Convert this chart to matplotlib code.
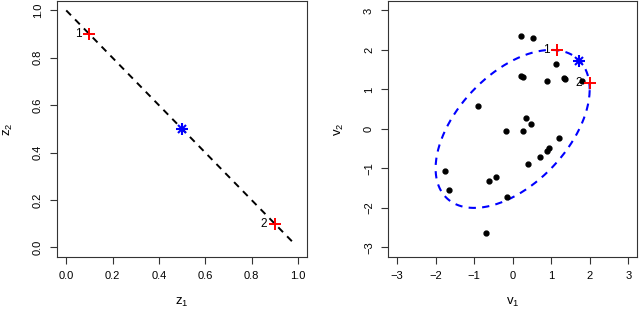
import numpy as np
import matplotlib
matplotlib.use("Agg")
import matplotlib.pyplot as plt

plt.rcParams['font.family'] = ['Liberation Sans', 'DejaVu Sans']
plt.rcParams['mathtext.default'] = 'regular'
plt.rcParams['font.size'] = 8

# left panel: simplex points
z_line_x = [0.0, 0.985]
z_line_y = [1.0, 0.015]
z_cross_x = [0.1, 0.9]
z_cross_y = [0.9, 0.1]
z_cross_lab = ['1', '2']
z_star = (0.5, 0.5)

# right panel: sample points
v1 = [0.21, 0.52, 1.13, 0.21, 0.28, 0.88, 1.33, 1.35, 1.80, -0.91,
      0.35, 0.47, -0.17, 0.28, 1.20, 0.94, 0.88, 0.71, 0.40, -0.42,
      -0.61, -1.76, -1.66, -0.15, -0.69]
v2 = [2.36, 2.30, 1.65, 1.34, 1.31, 1.21, 1.30, 1.26, 1.21, 0.58,
      0.27, 0.13, -0.05, -0.05, -0.24, -0.49, -0.56, -0.70, -0.88, -1.21,
      -1.32, -1.06, -1.54, -1.73, -2.64]
v_cross_x = [1.15, 2.0]
v_cross_y = [2.0, 1.15]
v_cross_lab = ['1', '2']
v_star = (1.73, 1.73)
rho = 0.5
radius = 2.0

fig = plt.figure(figsize=(6.4, 3.11), dpi=100)
ax1 = fig.add_axes([0.089, 0.174, 0.391, 0.823])
ax2 = fig.add_axes([0.606, 0.174, 0.390, 0.823])

def r_style(ax, ticks, lim):
    ax.set_xlim(lim)
    ax.set_ylim(lim)
    ax.set_xticks(ticks)
    ax.set_yticks(ticks)
    ax.tick_params(direction='out', length=5, width=0.8, pad=5, color='#333333')
    for s in ax.spines.values():
        s.set_color('#333333')
        s.set_linewidth(0.8)

def asterisk(ax, x, y):
    ax.plot(x, y, marker='+', color='blue', ms=8, mew=1.5, ls='none')
    ax.plot(x, y, marker='x', color='blue', ms=6, mew=1.5, ls='none')

# left
ax1.plot(z_line_x, z_line_y, ls=(0, (3.5, 3)), color='black', lw=1.4)
ax1.plot(z_cross_x, z_cross_y, marker='+', color='red', ms=8.5, mew=1.4, ls='none')
for x, y, t in zip(z_cross_x, z_cross_y, z_cross_lab):
    ax1.text(x - 0.035, y, t, ha='right', va='center', fontsize=8.5)
asterisk(ax1, *z_star)
r_style(ax1, [0.0, 0.2, 0.4, 0.6, 0.8, 1.0], (-0.04, 1.04))
ax1.set_xticklabels(['0.0', '0.2', '0.4', '0.6', '0.8', '1.0'])
ax1.set_yticklabels(['0.0', '0.2', '0.4', '0.6', '0.8', '1.0'], rotation=90, va='center')
ax1.set_xlabel('$z_1$', fontsize=9.5, labelpad=11)
ax1.set_ylabel('$z_2$', fontsize=9.5, labelpad=13)

# right
t = np.linspace(0, 2 * np.pi, 400)
ex = radius * np.cos(t)
ey = radius * (rho * np.cos(t) + np.sqrt(1 - rho ** 2) * np.sin(t))
ax2.plot(ex, ey, ls=(0, (3.5, 3)), color='blue', lw=1.5)
ax2.plot(v1, v2, 'o', color='black', ms=3.5, ls='none')
ax2.plot(v_cross_x, v_cross_y, marker='+', color='red', ms=8.5, mew=1.4, ls='none')
for x, y, tl in zip(v_cross_x, v_cross_y, v_cross_lab):
    ax2.text(x - 0.19, y, tl, ha='right', va='center', fontsize=8.5)
asterisk(ax2, *v_star)
r_style(ax2, [-3, -2, -1, 0, 1, 2, 3], (-3.24, 3.24))
ax2.set_xticklabels(['\u22123', '\u22122', '\u22121', '0', '1', '2', '3'])
ax2.set_yticklabels(['\u22123', '\u22122', '\u22121', '0', '1', '2', '3'], rotation=90, va='center')
ax2.set_xlabel('$v_1$', fontsize=9.5, labelpad=11)
ax2.set_ylabel('$v_2$', fontsize=9.5, labelpad=13)

fig.savefig('out.png', dpi=100)
